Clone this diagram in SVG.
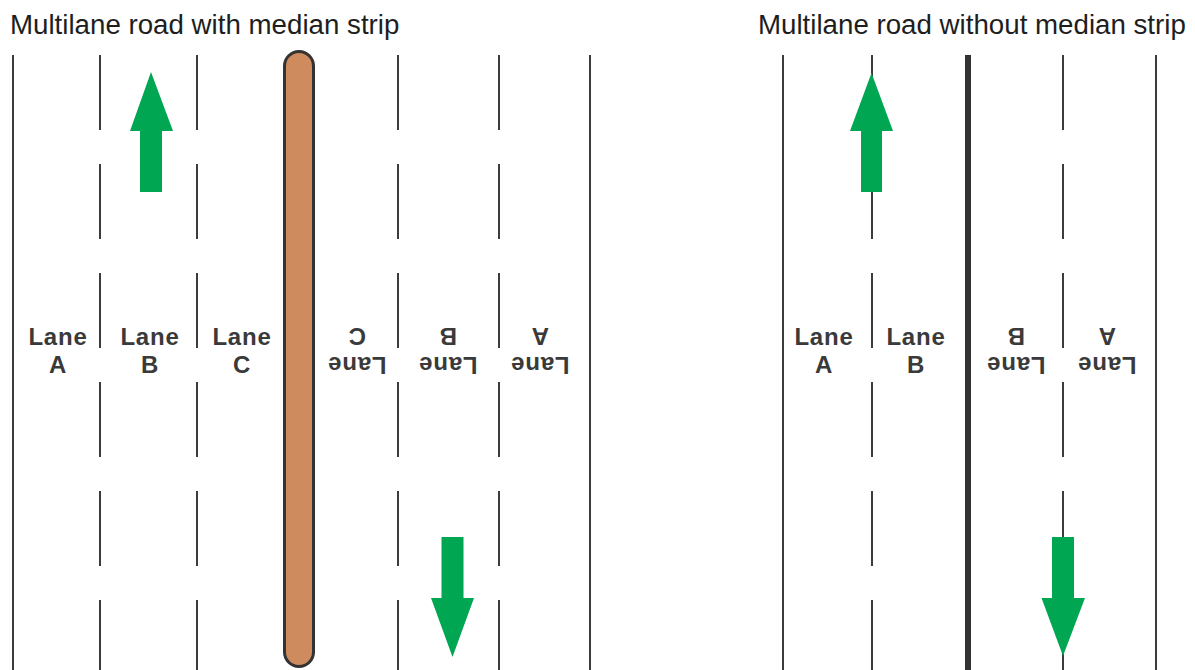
<svg xmlns="http://www.w3.org/2000/svg" width="1195" height="670" viewBox="0 0 1195 670">
<style>
.title{font-family:"Liberation Sans",Arial,sans-serif;font-size:27.7px;fill:#1e1e1e}
.lbl{font-family:"Liberation Sans",Arial,sans-serif;font-size:24px;font-weight:bold;fill:#3a3a3a;text-anchor:middle;letter-spacing:0.8px}
.solid{stroke:#3c3c3c;stroke-width:2;fill:none}
.dash{stroke:#3c3c3c;stroke-width:2;fill:none;stroke-dasharray:75 34}
.thick{stroke:#333;stroke-width:6;fill:none}
.arrow{fill:#00a651}
</style>
<rect width="1195" height="670" fill="#ffffff"/>
<g id="titles">
<text class="title" x="10" y="34">Multilane road with median strip</text>
<text class="title" x="758" y="34">Multilane road without median strip</text>
</g>
<g id="connectors">
<line class="solid" x1="13" y1="55" x2="13" y2="670"/>
<line class="dash" x1="100" y1="55" x2="100" y2="670"/>
<line class="dash" x1="197" y1="55" x2="197" y2="670"/>
<line class="dash" x1="398" y1="55" x2="398" y2="670"/>
<line class="dash" x1="499" y1="55" x2="499" y2="670"/>
<line class="solid" x1="590" y1="55" x2="590" y2="670"/>
<line class="solid" x1="783" y1="55" x2="783" y2="670"/>
<line class="dash" x1="872" y1="55" x2="872" y2="670"/>
<line class="thick" x1="968" y1="55" x2="968" y2="670"/>
<line class="dash" x1="1063" y1="55" x2="1063" y2="670"/>
<line class="solid" x1="1156" y1="55" x2="1156" y2="670"/>
</g>
<g id="median">
<rect x="284.5" y="51.5" width="29" height="615" rx="14.5" ry="14.5" fill="#cd8b5e" stroke="#333" stroke-width="3"/>
</g>
<g id="arrows">
<polygon id="arrow-left-up" class="arrow" points="151,72 173,131 162,131 162,192 140,192 140,131 130,131"/>
<polygon id="arrow-left-down" class="arrow" points="452.5,657 474,598 463.5,598 463.5,537 441.5,537 441.5,598 431,598"/>
<polygon id="arrow-right-up" class="arrow" points="871.5,73 893,131 882,131 882,192 861,192 861,131 850,131"/>
<polygon id="arrow-right-down" class="arrow" points="1063,656 1085,598 1074,598 1074,537 1052,537 1052,598 1041.5,598"/>
</g>
<g id="lane-left-A"><text class="lbl" x="58" y="344.5">Lane<tspan x="58" y="373">A</tspan></text></g>
<g id="lane-left-B"><text class="lbl" x="150" y="344.5">Lane<tspan x="150" y="373">B</tspan></text></g>
<g id="lane-left-C"><text class="lbl" x="242" y="344.5">Lane<tspan x="242" y="373">C</tspan></text></g>
<g id="lane-left-C-rev" transform="rotate(180 357 350.5)"><text class="lbl" x="357" y="344.5">Lane<tspan x="357" y="373">C</tspan></text></g>
<g id="lane-left-B-rev" transform="rotate(180 448 350.5)"><text class="lbl" x="448" y="344.5">Lane<tspan x="448" y="373">B</tspan></text></g>
<g id="lane-left-A-rev" transform="rotate(180 540 350.5)"><text class="lbl" x="540" y="344.5">Lane<tspan x="540" y="373">A</tspan></text></g>
<g id="lane-right-A"><text class="lbl" x="824" y="344.5">Lane<tspan x="824" y="373">A</tspan></text></g>
<g id="lane-right-B"><text class="lbl" x="916" y="344.5">Lane<tspan x="916" y="373">B</tspan></text></g>
<g id="lane-right-B-rev" transform="rotate(180 1016 350.5)"><text class="lbl" x="1016" y="344.5">Lane<tspan x="1016" y="373">B</tspan></text></g>
<g id="lane-right-A-rev" transform="rotate(180 1107 350.5)"><text class="lbl" x="1107" y="344.5">Lane<tspan x="1107" y="373">A</tspan></text></g>
</svg>
